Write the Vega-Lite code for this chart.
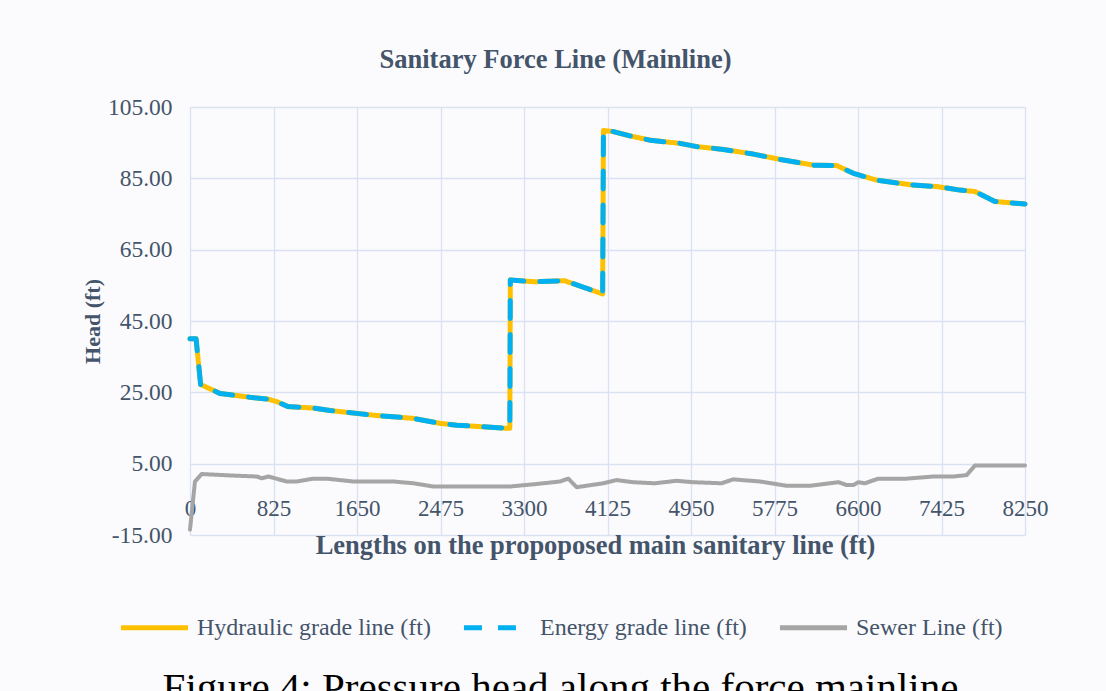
{
  "$schema": "https://vega.github.io/schema/vega-lite/v6.json",
  "width": 835,
  "height": 428,
  "autosize": "none",
  "padding": {"left": 190, "top": 107, "right": 81, "bottom": 156},
  "background": "#fbfbfd",
  "title": {
    "text": "Figure 4: Pressure head along the force mainline",
    "orient": "bottom",
    "anchor": "middle",
    "frame": "group",
    "dx": -47,
    "offset": 29,
    "font": "Liberation Serif",
    "fontSize": 41,
    "fontWeight": "normal",
    "color": "#000000"
  },
  "datasets": {
    "grade": [
      {"x": 0, "Hydraulic grade line (ft)": 40.0, "Energy grade line (ft)": 40.0},
      {"x": 60, "Hydraulic grade line (ft)": 40.0, "Energy grade line (ft)": 40.0},
      {"x": 105, "Hydraulic grade line (ft)": 27.2, "Energy grade line (ft)": 27.2},
      {"x": 296, "Hydraulic grade line (ft)": 24.7, "Energy grade line (ft)": 24.7},
      {"x": 593, "Hydraulic grade line (ft)": 23.6, "Energy grade line (ft)": 23.6},
      {"x": 771, "Hydraulic grade line (ft)": 23.1, "Energy grade line (ft)": 23.1},
      {"x": 857, "Hydraulic grade line (ft)": 22.4, "Energy grade line (ft)": 22.4},
      {"x": 969, "Hydraulic grade line (ft)": 21.0, "Energy grade line (ft)": 21.0},
      {"x": 1216, "Hydraulic grade line (ft)": 20.6, "Energy grade line (ft)": 20.6},
      {"x": 1383, "Hydraulic grade line (ft)": 19.9, "Energy grade line (ft)": 19.9},
      {"x": 1647, "Hydraulic grade line (ft)": 19.1, "Energy grade line (ft)": 19.1},
      {"x": 1845, "Hydraulic grade line (ft)": 18.5, "Energy grade line (ft)": 18.5},
      {"x": 2207, "Hydraulic grade line (ft)": 17.7, "Energy grade line (ft)": 17.7},
      {"x": 2470, "Hydraulic grade line (ft)": 16.3, "Energy grade line (ft)": 16.3},
      {"x": 2635, "Hydraulic grade line (ft)": 15.8, "Energy grade line (ft)": 15.8},
      {"x": 3145, "Hydraulic grade line (ft)": 14.9, "Energy grade line (ft)": 14.9},
      {"x": 3160, "Hydraulic grade line (ft)": 14.9, "Energy grade line (ft)": 14.9},
      {"x": 3165, "Hydraulic grade line (ft)": 56.5, "Energy grade line (ft)": 56.5},
      {"x": 3400, "Hydraulic grade line (ft)": 56.0, "Energy grade line (ft)": 56.0},
      {"x": 3700, "Hydraulic grade line (ft)": 56.3, "Energy grade line (ft)": 56.3},
      {"x": 4077, "Hydraulic grade line (ft)": 52.6, "Energy grade line (ft)": 52.6},
      {"x": 4085, "Hydraulic grade line (ft)": 98.4, "Energy grade line (ft)": 98.4},
      {"x": 4183, "Hydraulic grade line (ft)": 98.1, "Energy grade line (ft)": 98.1},
      {"x": 4347, "Hydraulic grade line (ft)": 96.9, "Energy grade line (ft)": 96.9},
      {"x": 4545, "Hydraulic grade line (ft)": 95.7, "Energy grade line (ft)": 95.7},
      {"x": 4841, "Hydraulic grade line (ft)": 94.8, "Energy grade line (ft)": 94.8},
      {"x": 5006, "Hydraulic grade line (ft)": 93.9, "Energy grade line (ft)": 93.9},
      {"x": 5270, "Hydraulic grade line (ft)": 93.1, "Energy grade line (ft)": 93.1},
      {"x": 5565, "Hydraulic grade line (ft)": 91.8, "Energy grade line (ft)": 91.8},
      {"x": 5829, "Hydraulic grade line (ft)": 90.3, "Energy grade line (ft)": 90.3},
      {"x": 6159, "Hydraulic grade line (ft)": 88.7, "Energy grade line (ft)": 88.7},
      {"x": 6389, "Hydraulic grade line (ft)": 88.6, "Energy grade line (ft)": 88.6},
      {"x": 6554, "Hydraulic grade line (ft)": 86.4, "Energy grade line (ft)": 86.4},
      {"x": 6784, "Hydraulic grade line (ft)": 84.5, "Energy grade line (ft)": 84.5},
      {"x": 7146, "Hydraulic grade line (ft)": 83.1, "Energy grade line (ft)": 83.1},
      {"x": 7377, "Hydraulic grade line (ft)": 82.7, "Energy grade line (ft)": 82.7},
      {"x": 7608, "Hydraulic grade line (ft)": 81.7, "Energy grade line (ft)": 81.7},
      {"x": 7756, "Hydraulic grade line (ft)": 81.3, "Energy grade line (ft)": 81.3},
      {"x": 7953, "Hydraulic grade line (ft)": 78.5, "Energy grade line (ft)": 78.5},
      {"x": 8250, "Hydraulic grade line (ft)": 77.8, "Energy grade line (ft)": 77.8}
    ],
    "sewer": [
      {"x": 0, "Sewer Line (ft)": -13.5},
      {"x": 49, "Sewer Line (ft)": 0.0},
      {"x": 115, "Sewer Line (ft)": 2.1},
      {"x": 395, "Sewer Line (ft)": 1.7},
      {"x": 659, "Sewer Line (ft)": 1.4},
      {"x": 708, "Sewer Line (ft)": 0.9},
      {"x": 774, "Sewer Line (ft)": 1.4},
      {"x": 955, "Sewer Line (ft)": 0.0},
      {"x": 1054, "Sewer Line (ft)": 0.0},
      {"x": 1218, "Sewer Line (ft)": 0.8},
      {"x": 1350, "Sewer Line (ft)": 0.8},
      {"x": 1614, "Sewer Line (ft)": 0.0},
      {"x": 2009, "Sewer Line (ft)": 0.0},
      {"x": 2207, "Sewer Line (ft)": -0.5},
      {"x": 2404, "Sewer Line (ft)": -1.4},
      {"x": 3162, "Sewer Line (ft)": -1.4},
      {"x": 3425, "Sewer Line (ft)": -0.7},
      {"x": 3656, "Sewer Line (ft)": 0.0},
      {"x": 3738, "Sewer Line (ft)": 0.8},
      {"x": 3820, "Sewer Line (ft)": -1.6},
      {"x": 4083, "Sewer Line (ft)": -0.5},
      {"x": 4216, "Sewer Line (ft)": 0.4},
      {"x": 4380, "Sewer Line (ft)": -0.2},
      {"x": 4594, "Sewer Line (ft)": -0.5},
      {"x": 4808, "Sewer Line (ft)": 0.2},
      {"x": 4973, "Sewer Line (ft)": -0.2},
      {"x": 5253, "Sewer Line (ft)": -0.5},
      {"x": 5368, "Sewer Line (ft)": 0.6},
      {"x": 5632, "Sewer Line (ft)": 0.0},
      {"x": 5895, "Sewer Line (ft)": -1.2},
      {"x": 6126, "Sewer Line (ft)": -1.2},
      {"x": 6406, "Sewer Line (ft)": -0.2},
      {"x": 6488, "Sewer Line (ft)": -1.0},
      {"x": 6554, "Sewer Line (ft)": -1.0},
      {"x": 6603, "Sewer Line (ft)": -0.2},
      {"x": 6669, "Sewer Line (ft)": -0.5},
      {"x": 6801, "Sewer Line (ft)": 0.8},
      {"x": 7081, "Sewer Line (ft)": 0.8},
      {"x": 7344, "Sewer Line (ft)": 1.4},
      {"x": 7542, "Sewer Line (ft)": 1.4},
      {"x": 7674, "Sewer Line (ft)": 1.8},
      {"x": 7756, "Sewer Line (ft)": 4.5},
      {"x": 8250, "Sewer Line (ft)": 4.5}
    ]
  },
  "encoding": {
    "x": {
      "field": "x",
      "type": "quantitative",
      "scale": {"domain": [0, 8250], "nice": false, "zero": false},
      "axis": {
        "orient": "bottom",
        "values": [0, 825, 1650, 2475, 3300, 4125, 4950, 5775, 6600, 7425, 8250],
        "format": "d",
        "offset": -53.5,
        "labelPadding": 16,
        "labelFlush": false,
        "labelOverlap": false,
        "grid": true,
        "title": "Lengths on the propoposed main sanitary line (ft)",
        "titleFontSize": 26.5,
        "titlePadding": 12,
        "titleX": 405,
        "titleAlign": "center"
      }
    },
    "y": {
      "field": "y",
      "type": "quantitative",
      "scale": {"domain": [-15, 105], "nice": false, "zero": false},
      "axis": {
        "values": [-15, 5, 25, 45, 65, 85, 105],
        "format": ".2f",
        "labelExpr": "replace(datum.label, '\u2212', '-')",
        "labelPadding": 18,
        "labelFontSize": 23.5,
        "grid": true,
        "title": "Head (ft)",
        "titleFontSize": 22,
        "titlePadding": 3
      }
    },
    "color": {
      "field": "s",
      "type": "nominal",
      "scale": {
        "domain": ["Hydraulic grade line (ft)", "Energy grade line (ft)", "Sewer Line (ft)"],
        "range": ["#FFC000", "#00B0F0", "#A5A5A5"]
      },
      "legend": {"title": null, "orient": "none", "legendX": -72, "legendY": 484, "direction": "horizontal"}
    },
    "strokeDash": {
      "field": "s",
      "type": "nominal",
      "scale": {
        "domain": ["Hydraulic grade line (ft)", "Energy grade line (ft)", "Sewer Line (ft)"],
        "range": [[1, 0], [18, 16], [1, 0]]
      },
      "legend": {"title": null, "orient": "none", "legendX": -72, "legendY": 484, "direction": "horizontal"}
    }
  },
  "layer": [
    {
      "data": {"name": "grade"},
      "transform": [{"fold": ["Hydraulic grade line (ft)"], "as": ["s", "y"]}],
      "mark": {"type": "line", "strokeWidth": 5, "strokeCap": "round", "strokeJoin": "round"}
    },
    {
      "data": {"name": "grade"},
      "transform": [{"fold": ["Energy grade line (ft)"], "as": ["s", "y"]}],
      "mark": {"type": "line", "strokeWidth": 5, "strokeCap": "round", "strokeJoin": "round"},
      "encoding": {
        "x": {
          "field": "x",
          "type": "quantitative",
          "axis": {
            "orient": "top",
            "labels": false,
            "ticks": false,
            "domain": false,
            "grid": false,
            "title": "Sanitary Force Line (Mainline)",
            "titleFontSize": 26.5,
            "titlePadding": 34,
            "titleX": 365,
            "titleAlign": "center"
          }
        }
      }
    },
    {
      "data": {"name": "sewer"},
      "transform": [{"fold": ["Sewer Line (ft)"], "as": ["s", "y"]}],
      "mark": {"type": "line", "strokeWidth": 4, "strokeCap": "round", "strokeJoin": "round"},
      "encoding": {
        "x": {"field": "x", "type": "quantitative", "axis": null}
      }
    }
  ],
  "resolve": {"axis": {"x": "independent"}},
  "config": {
    "view": {"stroke": null},
    "axis": {
      "labelFont": "Liberation Serif",
      "labelFontSize": 23,
      "labelColor": "#44546a",
      "titleFont": "Liberation Serif",
      "titleFontWeight": "bold",
      "titleColor": "#44546a",
      "gridColor": "#d9e1f2",
      "gridWidth": 1.3,
      "domain": false,
      "ticks": false
    },
    "legend": {
      "labelFont": "Liberation Serif",
      "labelFontSize": 24,
      "labelColor": "#44546a",
      "symbolType": "stroke",
      "symbolSize": 4500,
      "symbolStrokeWidth": 5,
      "labelOffset": 6,
      "columnPadding": 22,
      "padding": 0,
      "labelLimit": 500
    }
  }
}
